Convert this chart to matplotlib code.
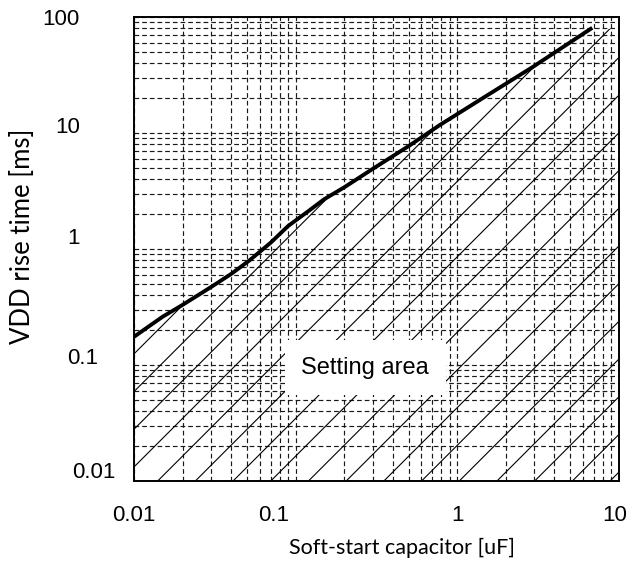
import numpy as np
import matplotlib
matplotlib.use("Agg")
import matplotlib.pyplot as plt
from matplotlib.transforms import offset_copy

# boundary curve
cap_uF = [0.01, 0.015, 0.02, 0.03, 0.04, 0.052, 0.07, 0.09, 0.12, 0.15, 0.2, 0.3, 0.5, 0.78, 1.5, 2.93, 6.7]
rise_ms = [0.175, 0.26, 0.33, 0.47, 0.61, 0.80, 1.13, 1.58, 2.12, 2.68, 3.4, 4.9, 7.7, 11.7, 20.7, 37.0, 79.0]

x_ticks = [0.01, 0.1, 1, 10]
x_labels = ["0.01", "0.1", "1", "10"]
y_ticks = [0.01, 0.1, 1, 10, 100]
y_labels = ["0.01", "0.1", "1", "10", "100"]

fig = plt.figure(figsize=(6.32, 5.65), dpi=100)
ax = fig.add_axes([0.212, 0.1487, 0.767, 0.8212])
ax.set_xscale("log")
ax.set_yscale("log")
ax.set_xlim(0.01, 10)
ax.set_ylim(0.01, 100)

ax.grid(which="both", ls=(0, (4, 2.5)), color="0.1", lw=0.85)
ax.tick_params(which="both", length=0, labelbottom=False, labelleft=False)
for s in ax.spines.values():
    s.set_linewidth(1.4)

# hatched "setting area" below the curve
region = ax.fill_between(cap_uF + [10], rise_ms + [rise_ms[-1]], 0.01,
                         facecolor="none", edgecolor="none")
clip = region.get_paths()[0]
W = 0.767 * 632
H = 0.8212 * 565
for h in 14 + 37.7 * np.arange(-14, 13):
    ln, = ax.plot([0, 1], [h / H, (W + h) / H], transform=ax.transAxes,
                  color="black", lw=0.8, zorder=2)
    ln.set_clip_path(clip, region.get_transform())

ax.plot(cap_uF, rise_ms, color="black", lw=2.8, zorder=4)

ax.text(0.27, 0.095, "Setting area", ha="center", va="center", fontsize=17,
        family="Liberation Sans", zorder=5,
        bbox=dict(boxstyle="square,pad=0.7", fc="white", ec="none"))

# tick labels (placed as in the original, slightly irregular)
x_shift = [0, -22, 0, -4]
for v, t, dx in zip(x_ticks, x_labels, x_shift):
    tr = offset_copy(ax.get_xaxis_transform(), fig=fig, x=dx, y=-35, units="dots")
    ax.text(v, 0, t, transform=tr, ha="center", va="center", fontsize=16,
            family="Liberation Sans")
y_dx = [-18, -36, -54, -54, -54]
y_dy = [8, 6, 10, 6, -2]
for v, t, dx, dy in zip(y_ticks, y_labels, y_dx, y_dy):
    tr = offset_copy(ax.get_yaxis_transform(), fig=fig, x=dx, y=dy, units="dots")
    ax.text(0, v, t, transform=tr, ha="right", va="center", fontsize=16,
            family="Liberation Sans")

fig.text(0.636, 0.030, "Soft-start capacitor [uF]", ha="center", va="center",
         fontsize=15.5, family="Lato")
fig.text(0.036, 0.582, "VDD rise time [ms]", ha="center", va="center",
         rotation=90, fontsize=18.5, family="Lato")

fig.savefig("out.png", dpi=100)
